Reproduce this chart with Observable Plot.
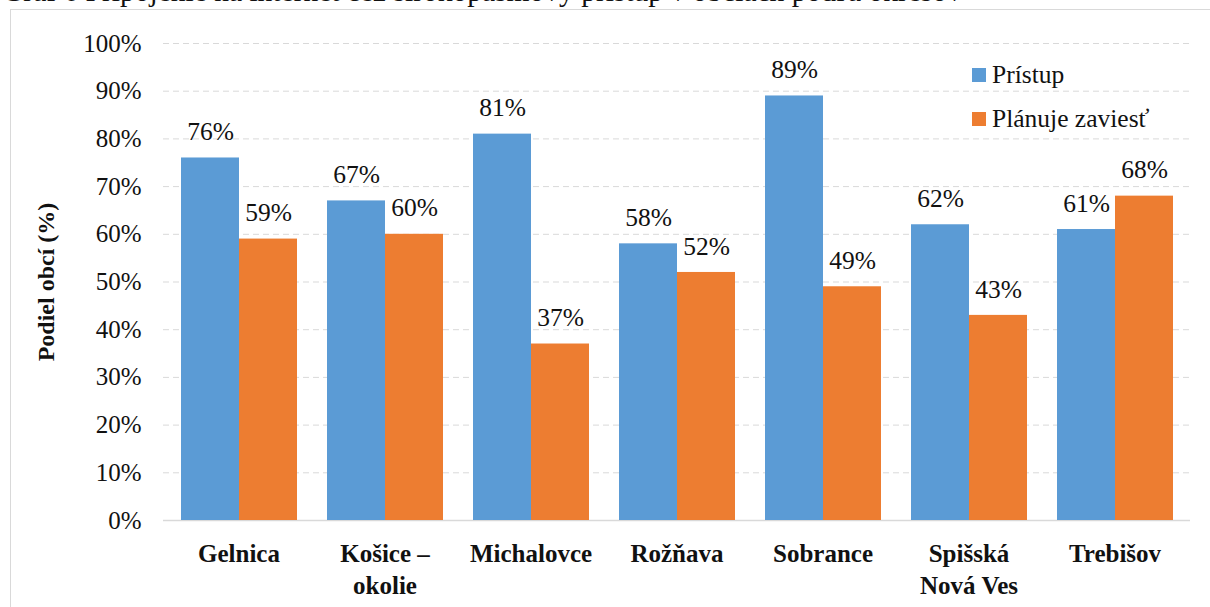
<!DOCTYPE html>
<html>
<head>
<meta charset="utf-8">
<script src="https://cdn.jsdelivr.net/npm/d3@7"></script>
<script src="https://cdn.jsdelivr.net/npm/@observablehq/plot@0.6"></script>
<style>
  html, body { margin: 0; padding: 0; background: #fff; }
  #wrap { position: relative; width: 1210px; height: 607px; overflow: hidden; font-family: "Liberation Serif", "DejaVu Serif", serif; color: #222; }
  #title { position: absolute; left: 2px; top: -23px; font-family: "Liberation Serif", serif; font-size: 29.5px; line-height: 29px; white-space: nowrap; color: #111; }
  #frame { position: absolute; left: 10px; top: 9px; width: 1400px; height: 800px; border: 1px solid #d9d9d9; box-sizing: border-box; }
  .layer { position: absolute; left: 0; top: 0; }
  #ylabel { position: absolute; left: 46px; top: 282px; transform: translate(-50%, -50%) rotate(-90deg); font-family: "Liberation Serif", serif; font-size: 24px; font-weight: bold; white-space: nowrap; color: #111; }
  .leg { position: absolute; left: 972px; font-family: "Liberation Serif", serif; font-size: 25.5px; line-height: 25px; white-space: nowrap; color: #111; }
  .leg span.sw { display: inline-block; width: 14px; height: 14px; margin-right: 6px; vertical-align: 1px; }
</style>
</head>
<body>
<div id="wrap">
  <div id="title">Graf 6 Pripojenie na internet cez širokopásmový prístup v obciach podľa okresov</div>
  <div id="frame"></div>
  <div id="grid" class="layer"></div>
  <div id="chart" class="layer"></div>
  <div id="ylabel">Podiel obcí (%)</div>
  <div id="legend"></div>
</div>
<script>
const categories = ["Gelnica", "Košice – okolie", "Michalovce", "Rožňava", "Sobrance", "Spišská Nová Ves", "Trebišov"];
const categoryLabels = ["Gelnica", "Košice –\nokolie", "Michalovce", "Rožňava", "Sobrance", "Spišská\nNová Ves", "Trebišov"];
const series = ["Prístup", "Plánuje zaviesť"];
const pristup = [76, 67, 81, 58, 89, 62, 61];
const planuje = [59, 60, 37, 52, 49, 43, 68];
const yTicks = [0, 10, 20, 30, 40, 50, 60, 70, 80, 90, 100];
const colors = ["#5b9bd5", "#ed7d31"];

const data = [];
categories.forEach((c, i) => {
  data.push({category: c, series: series[0], value: pristup[i]});
  data.push({category: c, series: series[1], value: planuje[i]});
});
const labelOf = new Map(categories.map((c, i) => [c, categoryLabels[i]]));

const serif = "Liberation Serif, serif";
const common = {
  width: 1210,
  height: 607,
  marginLeft: 163,
  marginRight: 20,
  marginTop: 43,
  marginBottom: 87,
  style: {fontFamily: serif, background: "transparent", color: "#111"}
};

// Background layer: gridlines, baseline and y axis
const grid = Plot.plot({
  ...common,
  y: {domain: [0, 100], label: null},
  marks: [
    Plot.ruleY(yTicks.filter(d => d > 0), {stroke: "#d9d9d9", strokeDasharray: "6,4"}),
    Plot.ruleY([0], {stroke: "#d9d9d9", strokeWidth: 1.5}),
    Plot.axisY({ticks: yTicks, tickFormat: d => d + "%", tickSize: 0, tickPadding: 22, fontSize: 25, fontFamily: serif, fill: "#111", label: null})
  ]
});
document.getElementById("grid").appendChild(grid);

// Foreground layer: grouped bars, value labels, category axis
const chart = Plot.plot({
  ...common,
  fx: {domain: categories, paddingInner: 0.2, paddingOuter: 0.1, label: null},
  x: {domain: series, padding: 0, axis: null},
  y: {domain: [0, 100], axis: null},
  color: {domain: series, range: colors},
  marks: [
    Plot.barY(data, {fx: "category", x: "series", y: "value", fill: "series"}),
    Plot.text(data, {fx: "category", x: "series", y: "value", text: d => d.value + "%", dy: -26, fontSize: 25.5, fontFamily: serif, fill: "#111"}),
    Plot.axisFx({anchor: "bottom", tickSize: 0, tickPadding: 19, fontSize: 25, fontWeight: "bold", fontFamily: serif, lineHeight: 1.28, fill: "#111", label: null, tickFormat: d => labelOf.get(d)})
  ]
});
document.getElementById("chart").appendChild(chart);

const legend = document.getElementById("legend");
series.forEach((s, i) => {
  const div = document.createElement("div");
  div.className = "leg";
  div.style.top = (62 + i * 44) + "px";
  const sw = document.createElement("span");
  sw.className = "sw";
  sw.style.background = colors[i];
  div.appendChild(sw);
  div.appendChild(document.createTextNode(s));
  legend.appendChild(div);
});
</script>
</body>
</html>
